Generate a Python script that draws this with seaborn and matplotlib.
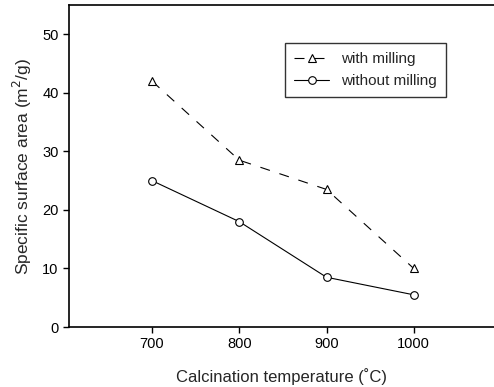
import pandas as pd
import matplotlib
matplotlib.use("Agg")
import matplotlib.pyplot as plt
import seaborn as sns

# Data
temperature = [700, 800, 900, 1000]
with_milling = [42.0, 28.5, 23.5, 10.0]
without_milling = [25.0, 18.0, 8.5, 5.5]

sns.set_style("ticks")
plt.rcParams['font.family'] = ['Liberation Sans', 'DejaVu Sans']

fig = plt.figure(figsize=(4.94, 3.87), dpi=100)
ax = fig.add_axes([0.14, 0.155, 0.86, 0.832])

df = pd.DataFrame({'T': temperature, 'with': with_milling, 'without': without_milling})

sns.lineplot(data=df, x='T', y='with', ax=ax, color='black', lw=0.8,
             marker='^', markersize=5.5, markerfacecolor='white', markeredgecolor='black',
             markeredgewidth=0.8, label='with milling')
ax.lines[-1].set_linestyle((0, (9, 9)))
sns.lineplot(data=df, x='T', y='without', ax=ax, color='black', lw=0.8,
             marker='o', markersize=5.5, markerfacecolor='white', markeredgecolor='black',
             markeredgewidth=0.8, label='without milling')

ax.set_xlim(605, 1092)
ax.set_ylim(0, 55)
ax.set_xticks([700, 800, 900, 1000])
ax.set_yticks([0, 10, 20, 30, 40, 50])
ax.tick_params(labelsize=10.5, direction='out', length=4, width=1, colors='black')
for s in ax.spines.values():
    s.set_color('black')
    s.set_linewidth(1.2)
ax.spines['right'].set_visible(False)

ax.set_xlabel('Calcination temperature (\u02daC)', fontsize=12, labelpad=12)
ax.set_ylabel('Specific surface area (m$^2$/g)', fontsize=12.5, labelpad=6)

leg = ax.legend(loc='upper left', bbox_to_anchor=(0.49, 0.905), fontsize=11,
                frameon=True, fancybox=False, handlelength=2.3, borderpad=0.6,
                labelspacing=0.5)
leg.get_frame().set_edgecolor('black')
leg.get_frame().set_linewidth(1)

fig.savefig('out.png', dpi=100)
